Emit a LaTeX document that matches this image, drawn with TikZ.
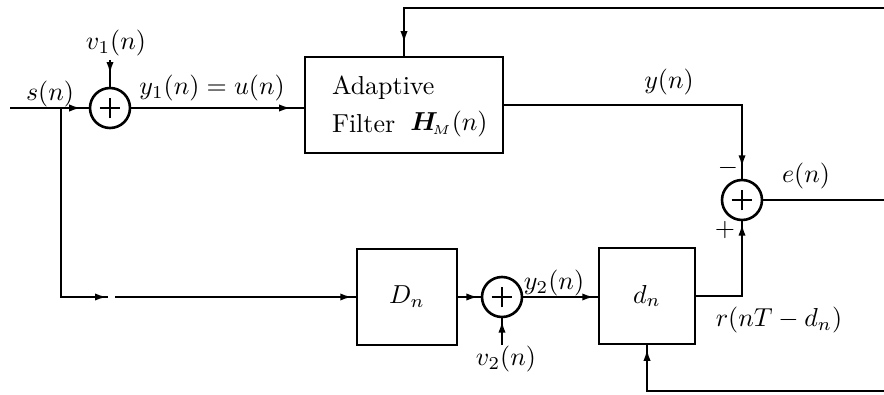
\documentclass[tikz,border=0pt]{standalone}
\usepackage{amsmath,bm}
\usetikzlibrary{arrows.meta,decorations.markings}
\begin{document}
\begin{tikzpicture}[x=0.385pt,y=-0.385pt,
  line width=0.8pt,
  blk/.style={draw, line width=0.9pt, inner sep=0pt},
  sumn/.style={draw, circle, line width=1pt, minimum size=15.4pt, inner sep=0pt,
    path picture={\draw[line width=1pt]
      ([xshift=-4pt]path picture bounding box.center) -- ([xshift=4pt]path picture bounding box.center)
      ([yshift=-4pt]path picture bounding box.center) -- ([yshift=4pt]path picture bounding box.center);}},
  arr/.style={postaction={decorate}, decoration={markings,
    mark=at position #1 with {\arrow{Latex[length=4.5pt,width=2.8pt]}}}},
  arr/.default=-1pt,
  lab/.style={inner sep=0pt}
]
\useasboundingbox (0,0) rectangle (884,394);

% nodes
\node[sumn] (s1) at (110,108) {};
\node[sumn] (s2) at (742,200) {};
\node[sumn] (s3) at (502,297) {};
\node[blk, minimum width=76.23pt, minimum height=36.96pt] (filt) at (404,105) {};
\node[lab, anchor=west] (tA) at (331,88) {Adaptive};
\node[lab, anchor=west] (tF) at (331,124) {Filter};
\node[lab] (tH) at (449,124) {$\bm{H}_{\!\scriptscriptstyle M}(n)$};
\node[blk, minimum width=38.5pt, minimum height=36.96pt] (Dn) at (407,297) {$D_n$};
\node[blk, minimum width=36.96pt, minimum height=36.96pt] (dn) at (647,296) {$d_n$};

% labels
\node[lab] (ls) at (50,94) {$s(n)$};
\node[lab] (lv1) at (116,43) {$v_1(n)$};
\node[lab] (ly1) at (212,88) {$y_1(n)=u(n)$};
\node[lab] (ly) at (669,82) {$y(n)$};
\node[lab] (lm) at (728,168) {$-$};
\node[lab] (lp) at (725,230) {$+$};
\node[lab] (le) at (806,176) {$e(n)$};
\node[lab] (lv2) at (506,359) {$v_2(n)$};
\node[lab] (ly2) at (554,283) {$y_2(n)$};
\node[lab] (lr) at (779,320) {$r(nT-d_n)$};

% coordinates
\coordinate (sin) at (10,108);
\coordinate (j) at (61,108);
\coordinate (ga) at (108,297);
\coordinate (gb) at (115,297);
\coordinate (v1s) at (110,60);
\coordinate (v2s) at (502,345);
\coordinate (fbT) at (884,8);
\coordinate (fbE) at (884,200);
\coordinate (fbB) at (884,391);

% connectors
\draw[arr=-3pt] (sin) -- (s1.west);
\draw[arr=-5pt] (v1s) -- (s1.north);
\draw[arr=-5pt] (s1.east) -- (filt.west |- s1.east);
\draw[arr=-5pt] (fbT) -| (filt.north);
\draw[arr=-4.5pt] (filt.east) -| (s2.north);
\draw (s2.east) -- (fbE);
\draw[arr=-1pt] (dn.east) -| (s2.south);
\draw[arr=-0.5pt] (j) |- (ga);
\draw[arr=-1.5pt] (gb) -- (Dn.west);
\draw[arr=-1pt] (Dn.east) -- (s3.west);
\draw[arr=-1pt] (v2s) -- (s3.south);
\draw[arr=-1.5pt] (s3.east) -- (dn.west |- s3.east);
\draw[arr=-1.5pt] (fbB) -| (dn.south);
\end{tikzpicture}
\end{document}
